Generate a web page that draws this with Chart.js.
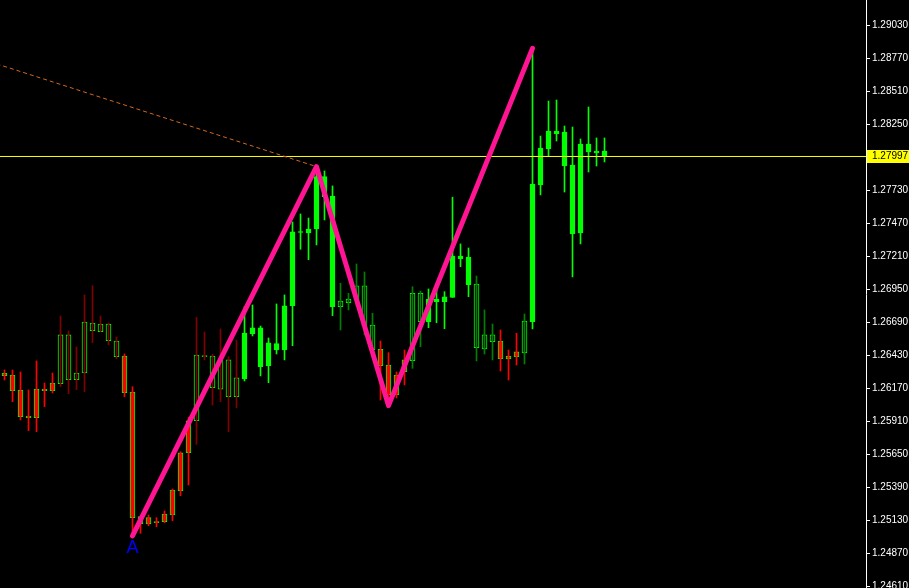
<!DOCTYPE html>
<html>
<head>
<meta charset="utf-8">
<title>GBPUSD H1 zigzag</title>
<script src="https://cdn.jsdelivr.net/npm/chart.js@4.4.1/dist/chart.umd.min.js"></script>
<style>
  html, body { margin: 0; padding: 0; background: #000; }
  #wrap { width: 909px; height: 588px; }
</style>
</head>
<body>
<div id="wrap"><canvas id="chart" width="909" height="588"></canvas></div>
<script>
// OHLC, one entry per bar, oldest first
const opens = [
  1.26270, 1.26275, 1.26157, 1.25952, 1.25939, 1.26165, 1.26152, 1.26207, 1.26591, 1.26238,
  1.26291, 1.26685, 1.26617, 1.26677, 1.26543, 1.26425, 1.26141, 1.25159, 1.25101, 1.25117,
  1.25120, 1.25172, 1.25361, 1.25663, 1.25915, 1.26425, 1.26425, 1.26163, 1.26394, 1.26104,
  1.26244, 1.26601, 1.26646, 1.26349, 1.26522, 1.26472, 1.26821, 1.27398, 1.27394, 1.27426,
  1.27838, 1.27686, 1.26814, 1.26845, 1.26866, 1.26977, 1.26669, 1.26478, 1.26354, 1.26118,
  1.26301, 1.26388, 1.26919, 1.26695, 1.26874, 1.26853, 1.26886, 1.27213, 1.27203, 1.26992,
  1.26480, 1.26591, 1.26543, 1.26401, 1.26417, 1.26449, 1.26695, 1.27772, 1.28056, 1.28198,
  1.28190, 1.27930, 1.27394, 1.28095, 1.28040, 1.28040,
];
const highs = [
  1.26315, 1.26315, 1.26299, 1.26157, 1.26386, 1.26212, 1.26291, 1.26740, 1.26622, 1.26496,
  1.26906, 1.26979, 1.26740, 1.26685, 1.26575, 1.26441, 1.26183, 1.25159, 1.25172, 1.25151,
  1.25204, 1.25377, 1.25671, 1.25942, 1.26730, 1.26614, 1.26438, 1.26638, 1.26420, 1.26551,
  1.26814, 1.26827, 1.26661, 1.26567, 1.26835, 1.26906, 1.27481, 1.27544, 1.27512, 1.27917,
  1.27883, 1.27765, 1.26998, 1.26919, 1.27150, 1.27087, 1.26762, 1.26543, 1.26451, 1.26299,
  1.26472, 1.26971, 1.26937, 1.26953, 1.26985, 1.26932, 1.27676, 1.27308, 1.27276, 1.27055,
  1.26788, 1.26677, 1.26630, 1.26472, 1.26604, 1.26756, 1.28849, 1.28158, 1.28434, 1.28442,
  1.28237, 1.28229, 1.28135, 1.28387, 1.28143, 1.28143,
];
const lows = [
  1.26236, 1.26065, 1.25921, 1.25837, 1.25829, 1.26026, 1.26134, 1.26183, 1.26128, 1.26160,
  1.26144, 1.26530, 1.26617, 1.26514, 1.26404, 1.26104, 1.25007, 1.25028, 1.25088, 1.25080,
  1.25112, 1.25127, 1.25324, 1.25409, 1.25729, 1.26394, 1.26039, 1.26065, 1.25829, 1.26018,
  1.26228, 1.26583, 1.26268, 1.26215, 1.26441, 1.26394, 1.26506, 1.27266, 1.27184, 1.27300,
  1.27497, 1.26743, 1.26630, 1.26788, 1.26819, 1.26591, 1.26433, 1.26078, 1.26034, 1.26094,
  1.26197, 1.26328, 1.26498, 1.26648, 1.26687, 1.26640, 1.26886, 1.27129, 1.26892, 1.26386,
  1.26441, 1.26394, 1.26307, 1.26236, 1.26354, 1.26362, 1.26638, 1.27694, 1.28001, 1.28119,
  1.27717, 1.27048, 1.27308, 1.27875, 1.27922, 1.27954,
];
const closes = [
  1.26289, 1.26152, 1.25947, 1.25939, 1.26165, 1.26152, 1.26212, 1.26591, 1.26238, 1.26291,
  1.26693, 1.26624, 1.26677, 1.26546, 1.26420, 1.26136, 1.25151, 1.25101, 1.25151, 1.25112,
  1.25180, 1.25369, 1.25663, 1.25915, 1.26433, 1.26420, 1.26175, 1.26394, 1.26104, 1.26252,
  1.26606, 1.26646, 1.26341, 1.26528, 1.26472, 1.26821, 1.27404, 1.27406, 1.27426, 1.27838,
  1.27680, 1.26814, 1.26858, 1.26874, 1.26977, 1.26664, 1.26472, 1.26349, 1.26118, 1.26275,
  1.26394, 1.26919, 1.26695, 1.26872, 1.26853, 1.26892, 1.27213, 1.27192, 1.26987, 1.26491,
  1.26591, 1.26538, 1.26401, 1.26425, 1.26457, 1.26701, 1.27780, 1.28064, 1.28198, 1.28177,
  1.27922, 1.27386, 1.28095, 1.28032, 1.28025, 1.27997,
];
// trend indicator state per bar (colours the candles)
const trendState = [
  'down', 'down', 'down', 'down', 'down', 'down', 'down',
  'downWeak', 'downWeak', 'downWeak', 'downWeak', 'downWeak', 'downWeak', 'downWeak', 'downWeak',
  'down', 'down', 'down', 'down', 'down', 'down', 'down', 'down', 'down',
  'downWeak', 'downWeak', 'downWeak', 'downWeak', 'downWeak', 'downWeak',
  'up', 'up', 'up', 'up', 'up', 'up', 'up', 'up', 'up', 'up', 'up', 'up',
  'upWeak', 'upWeak', 'upWeak', 'upWeak', 'upWeak',
  'down', 'down', 'down', 'down',
  'upWeak', 'upWeak',
  'up', 'up', 'up', 'up', 'up', 'up',
  'upWeak', 'upWeak', 'upWeak',
  'down', 'down', 'down',
  'upWeak',
  'up', 'up', 'up', 'up', 'up', 'up', 'up', 'up', 'up', 'up',
];

// price axis labels
const priceTicks = [
  1.29030, 1.28770, 1.28510, 1.28250, 1.27730, 1.27470, 1.27210, 1.26950, 1.26690,
  1.26430, 1.26170, 1.25910, 1.25650, 1.25390, 1.25130, 1.24870, 1.24610,
];
const bidPrice = 1.27997;

// zigzag turning points (bar index + which extreme)
const zigzagBars = [16, 39, 48, 66];
const zigzagKinds = ['low', 'high', 'low', 'high'];
const zigzagLabel = 'A';

// hand drawn trend line ending on the bar 39 high
const trendStart = { bar: -1, price: 1.28727 };
const trendEndBar = 39;

// visible window
const X_MIN = -0.5625;
const X_MAX = 107.6875;
const Y_MIN = 1.24597;
const Y_MAX = 1.29230;

const STATE_STYLE = {
  down:     { fill: '#ff0000', wick: '#ff0000' },
  downWeak: { fill: '#000000', wick: '#800000' },
  up:       { fill: '#00ff00', wick: '#00ff00' },
  upWeak:   { fill: '#000000', wick: '#008000' },
};

const bodyData = opens.map((o, i) => ({ x: i, y: [o, closes[i]] }));
const wickData = lows.map((l, i) => ({ x: i, y: [l, highs[i]] }));
const zigzagData = zigzagBars.map((b, j) => ({
  x: b,
  y: zigzagKinds[j] === 'low' ? lows[b] : highs[b],
}));

const overlayPlugin = {
  id: 'overlay',
  afterDraw(chart) {
    const { ctx } = chart;
    const x = chart.scales.x;
    const y = chart.scales.y;
    ctx.save();

    // zigzag start label
    const b = zigzagBars[0];
    ctx.fillStyle = '#0000ff';
    ctx.font = '18px "Liberation Sans", Arial, sans-serif';
    ctx.textAlign = 'center';
    ctx.textBaseline = 'alphabetic';
    ctx.fillText(zigzagLabel, x.getPixelForValue(b), y.getPixelForValue(lows[b]) + 17);

    // current price tag on the axis
    const by = Math.floor(y.getPixelForValue(bidPrice));
    ctx.fillStyle = '#ffff00';
    ctx.fillRect(y.left + 1, by - 6, chart.width - y.left - 1, 13);
    ctx.fillStyle = '#000000';
    ctx.font = '10px "Liberation Sans", Arial, sans-serif';
    ctx.textAlign = 'left';
    ctx.textBaseline = 'middle';
    ctx.fillText(bidPrice.toFixed(5), y.left + 6, by + 0.5);

    ctx.restore();
  },
};

new Chart(document.getElementById('chart'), {
  type: 'bar',
  data: {
    datasets: [
      {
        label: 'zigzag',
        type: 'line',
        data: zigzagData,
        borderColor: '#ff1493',
        borderWidth: 5,
        borderCapStyle: 'round',
        borderJoinStyle: 'round',
        pointRadius: 0,
        tension: 0,
        fill: false,
        order: 1,
      },
      {
        label: 'trend',
        type: 'line',
        data: [
          { x: trendStart.bar, y: trendStart.price },
          { x: trendEndBar, y: highs[trendEndBar] },
        ],
        borderColor: '#d2691e',
        borderWidth: 1,
        borderDash: [4, 3],
        pointRadius: 0,
        fill: false,
        order: 2,
      },
      {
        label: 'bid',
        type: 'line',
        data: [{ x: X_MIN, y: bidPrice }, { x: X_MAX, y: bidPrice }],
        borderColor: '#ffff00',
        borderWidth: 1,
        pointRadius: 0,
        fill: false,
        order: 3,
      },
      {
        label: 'wicks',
        data: wickData,
        backgroundColor: trendState.map(s => STATE_STYLE[s].wick),
        barThickness: 1,
        borderWidth: 0,
        grouped: false,
        minBarLength: 1,
        order: 4,
      },
      {
        label: 'bodies',
        data: bodyData,
        backgroundColor: trendState.map(s => STATE_STYLE[s].fill),
        borderColor: '#00ff00',
        borderWidth: 1,
        borderSkipped: false,
        barThickness: 5,
        grouped: false,
        minBarLength: 1,
        order: 5,
      },
    ],
  },
  options: {
    responsive: false,
    animation: false,
    events: [],
    layout: { padding: 0 },
    plugins: {
      legend: { display: false },
      tooltip: { enabled: false },
    },
    scales: {
      x: {
        type: 'linear',
        display: false,
        min: X_MIN,
        max: X_MAX,
        offset: false,
      },
      y: {
        type: 'linear',
        position: 'right',
        min: Y_MIN,
        max: Y_MAX,
        afterBuildTicks(scale) {
          scale.ticks = priceTicks.map(v => ({ value: v }));
        },
        afterFit(scale) {
          scale.width = 43;
          scale.paddingTop = 0;
          scale.paddingBottom = 0;
        },
        grid: {
          drawOnChartArea: false,
          color: '#ffffff',
          tickLength: 4,
        },
        border: { color: '#ffffff', width: 1 },
        ticks: {
          color: '#ffffff',
          autoSkip: false,
          padding: 2,
          font: { family: 'Liberation Sans', size: 10 },
          callback: v => v.toFixed(5),
        },
      },
    },
  },
  plugins: [overlayPlugin],
});
</script>
</body>
</html>
